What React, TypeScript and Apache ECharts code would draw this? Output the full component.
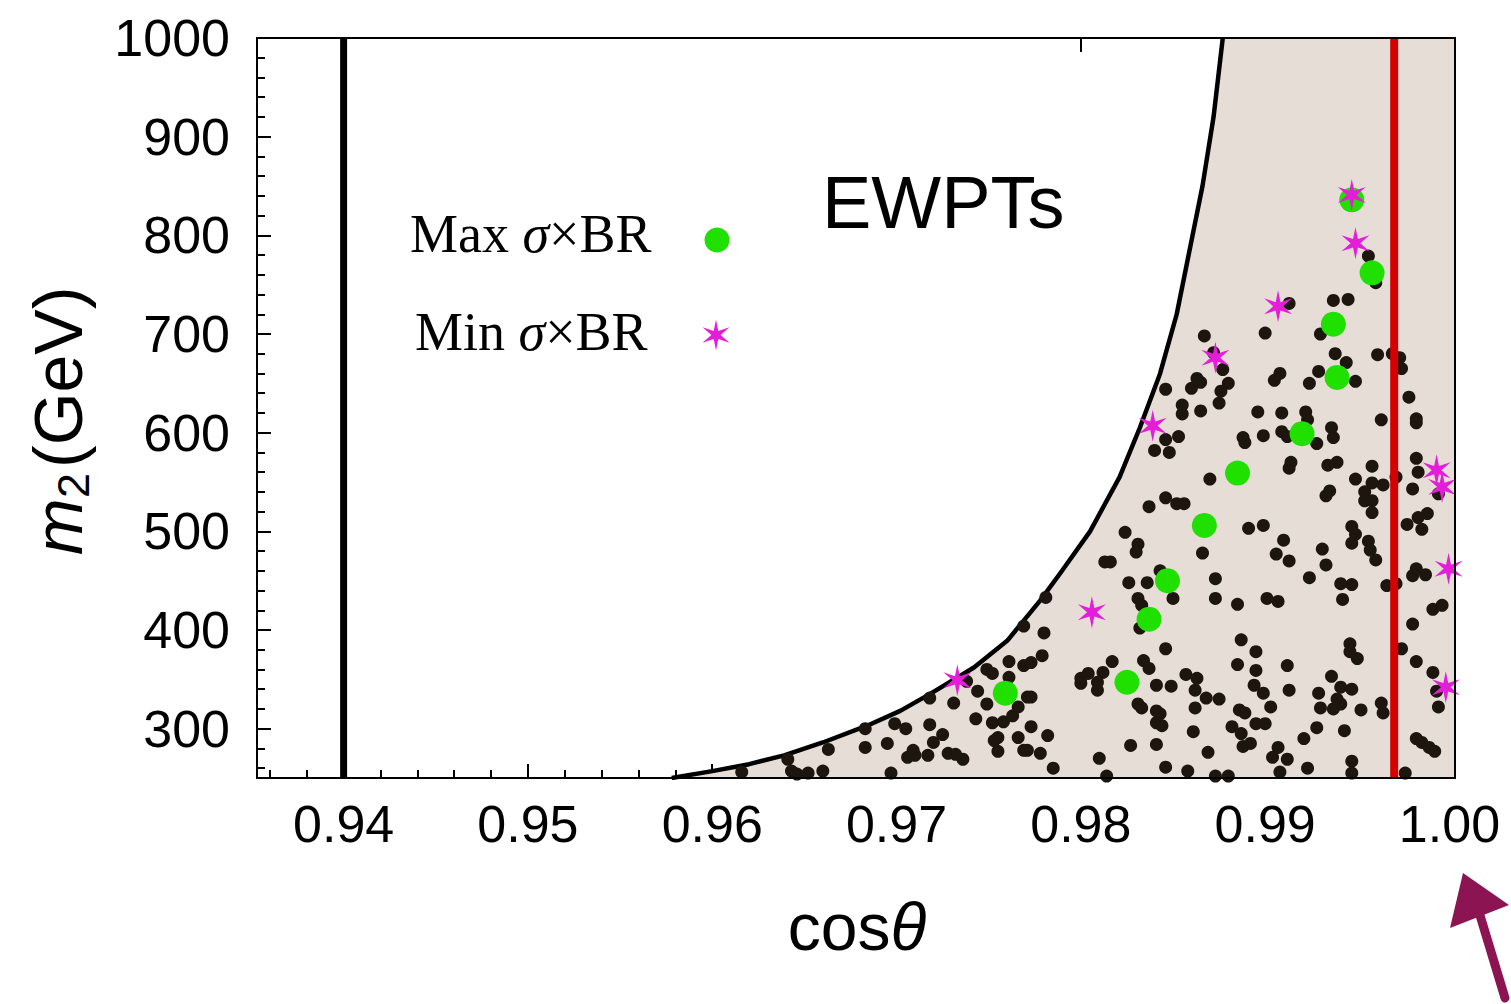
import React, { useEffect, useRef } from "react";
import * as echarts from "echarts";

// ---------------- data ----------------
const X_MIN = 0.9353;
const X_MAX = 1.0003;
const Y_MIN = 250;
const Y_MAX = 1000;

const xMajorTicks = [0.94, 0.95, 0.96, 0.97, 0.98, 0.99, 1.0];
const xMinorTicks = [
  0.936, 0.938, 0.942, 0.944, 0.946, 0.948, 0.952, 0.954, 0.956, 0.958,
  0.962, 0.964, 0.966, 0.968, 0.972, 0.974, 0.976, 0.978, 0.982, 0.984,
  0.986, 0.988, 0.992, 0.994, 0.996, 0.998,
];
const xTopTicks = [0.98, 0.99];
const yMajorTicks = [300, 400, 500, 600, 700, 800, 900, 1000];
const yMinorTicks = [
  260, 280, 320, 340, 360, 380, 420, 440, 460, 480, 520, 540, 560, 580,
  620, 640, 660, 680, 720, 740, 760, 780, 820, 840, 860, 880, 920, 940, 960, 980,
];

// EWPT exclusion boundary (allowed region lies to the right / below)
const boundaryCos = [0.9578, 0.96, 0.962, 0.9639, 0.966, 0.9684, 0.9702, 0.9718, 0.9742, 0.976, 0.9778, 0.9789, 0.9805, 0.9821, 0.9832, 0.9843, 0.9852, 0.9859, 0.9866, 0.9872, 0.9877];
const boundaryM2 = [250, 257, 264, 273, 286, 303, 318, 335, 362, 389, 430, 458, 500, 555, 605, 660, 720, 785, 850, 920, 1000];

const ewptLineCos = 0.94;
const redLineCos = 0.997;

// light strips (rendering artefacts in the original shading)
const stripA = { cos: [0.979, 0.9797], m2: [250, 465] };
const stripB = { cos: [0.9914, 0.992], m2: [250, 1000] };

const scanPoints: [number, number][] = [
  [0.9616, 256], [0.9641, 269], [0.9643, 257], [0.9646, 254], [0.9652, 255], [0.966, 257], [0.9663, 279],
  [0.9683, 300], [0.9683, 281], [0.9695, 285], [0.9697, 255], [0.9699, 305], [0.9705, 300], [0.9706, 271],
  [0.9709, 278], [0.971, 273], [0.9717, 273], [0.9718, 331], [0.9718, 304], [0.972, 286], [0.9725, 294],
  [0.9728, 275], [0.9732, 274], [0.9736, 269], [0.9731, 326], [0.9738, 348], [0.9743, 310], [0.9744, 338],
  [0.9749, 360], [0.9752, 356], [0.9749, 325], [0.9752, 306], [0.9755, 291], [0.9753, 288], [0.9755, 277],
  [0.9758, 307], [0.9761, 368], [0.9761, 352], [0.9763, 313], [0.9766, 322], [0.9766, 291], [0.9769, 278],
  [0.9771, 332], [0.9773, 332], [0.9773, 302], [0.9769, 364], [0.9773, 367], [0.9779, 374], [0.9769, 404],
  [0.978, 397], [0.9781, 433], [0.9778, 275], [0.9771, 278], [0.9782, 293], [0.9785, 260],
  [0.9831, 432], [0.9833, 425], [0.9832, 402], [0.985, 432], [0.9873, 432], [0.9885, 426], [0.9887, 390],
  [0.9885, 365], [0.9846, 381], [0.9817, 368], [0.9834, 369], [0.9837, 361], [0.9804, 356], [0.9812, 357],
  [0.98, 351], [0.98, 346], [0.9809, 347], [0.9809, 339], [0.9857, 355], [0.9863, 351], [0.9841, 344],
  [0.9849, 343], [0.9862, 339], [0.9868, 331], [0.9875, 330], [0.9831, 325], [0.9833, 321], [0.9841, 318],
  [0.9843, 315], [0.9841, 306], [0.9844, 303], [0.9862, 321], [0.9886, 319], [0.9889, 316], [0.9882, 302],
  [0.9887, 295], [0.9888, 282], [0.9861, 297], [0.9827, 283], [0.9841, 284], [0.9869, 276], [0.981, 270],
  [0.9846, 261], [0.9858, 257], [0.9814, 252], [0.9873, 252], [0.988, 252],
  [0.9855, 628], [0.9855, 619], [0.9865, 622], [0.9875, 630], [0.9846, 593], [0.9853, 596], [0.984, 582],
  [0.9848, 580], [0.9888, 595], [0.9889, 590], [0.987, 553], [0.9846, 534], [0.9837, 525], [0.9852, 528],
  [0.9856, 528], [0.9824, 499], [0.9831, 487], [0.983, 479], [0.9866, 478], [0.9813, 469], [0.9816, 469],
  [0.9843, 460], [0.9826, 448], [0.9836, 448], [0.9873, 452], [0.9891, 503],
  [0.9896, 621], [0.9909, 620], [0.9899, 597], [0.9909, 601], [0.9912, 596], [0.9922, 621], [0.9923, 613],
  [0.9936, 605], [0.9937, 595], [0.9928, 589], [0.9963, 613], [0.9982, 614], [0.9982, 610], [0.9913, 564],
  [0.9914, 570], [0.9934, 567], [0.9939, 570], [0.9933, 536], [0.9935, 541], [0.9949, 553], [0.9958, 566],
  [0.9958, 549], [0.9964, 547], [0.9954, 540], [0.9954, 531], [0.9958, 531], [0.9958, 519], [0.9971, 555],
  [0.9982, 574], [0.9983, 560], [0.998, 543], [0.9994, 538], [0.9988, 518], [0.9983, 514], [0.9977, 507],
  [0.9985, 502], [0.9899, 506], [0.991, 491], [0.9906, 477], [0.9913, 470], [0.9947, 505], [0.9949, 497],
  [0.9947, 488], [0.9956, 490], [0.9957, 481], [0.996, 471], [0.9931, 482], [0.9933, 466], [0.9924, 453],
  [0.9941, 447], [0.9947, 446], [0.9966, 445], [0.9971, 447], [0.998, 455], [0.9982, 462], [0.9987, 456],
  [0.9901, 432], [0.9907, 429], [0.9942, 431], [0.9991, 421], [0.9996, 425], [0.998, 406], [0.9895, 378],
  [0.9895, 359], [0.9894, 344], [0.9899, 336], [0.9903, 322], [0.9895, 305], [0.99, 305], [0.9892, 285],
  [0.9907, 281], [0.9904, 271], [0.9908, 256], [0.9912, 364], [0.9912, 269], [0.9946, 386], [0.9946, 378],
  [0.995, 371], [0.9936, 353], [0.9941, 342], [0.9947, 340], [0.9929, 336], [0.993, 321], [0.9939, 330],
  [0.9941, 325], [0.9937, 320], [0.9952, 319], [0.9963, 326], [0.9964, 316], [0.9928, 301], [0.9943, 298],
  [0.9921, 290], [0.9923, 260], [0.9947, 267], [0.9947, 255], [0.9974, 381], [0.9982, 368], [0.9991, 357],
  [0.9993, 338], [0.9994, 322], [0.9982, 290], [0.9985, 286], [0.9989, 281], [0.9992, 277], [0.9976, 255],
  [0.9913, 339],
  [0.9867, 698], [0.9877, 664], [0.9846, 644], [0.986, 645], [0.9863, 655], [0.9865, 651], [0.988, 650],
  [0.9876, 642], [0.99, 701], [0.9908, 660], [0.9905, 653], [0.9913, 731], [0.9937, 734], [0.9945, 735],
  [0.993, 700], [0.9938, 680], [0.9944, 671], [0.9929, 662], [0.9924, 650], [0.9949, 652], [0.9961, 679],
  [0.9969, 680], [0.9973, 676], [0.9974, 665], [0.9978, 636], [0.9956, 779], [0.996, 752], [0.9872, 681],
];

const maxSigmaBR: [number, number][] = [
  [0.9759, 336], [0.9825, 347], [0.9837, 411], [0.9847, 450], [0.9867, 506], [0.9885, 559],
  [0.992, 599], [0.9939, 656], [0.9937, 710], [0.9958, 762], [0.9947, 836],
];

const minSigmaBR: [number, number][] = [
  [0.9733, 349], [0.9806, 418], [0.9839, 607], [0.9873, 676], [0.9907, 728], [0.9949, 792],
  [0.9947, 841], [0.9993, 562], [0.9996, 545], [0.99995, 462], [0.9998, 342],
];

// ---------------- styles ----------------
const SANS = "'Liberation Sans', Arial, Helvetica, sans-serif";
const SERIF = "'Liberation Serif', 'Times New Roman', serif";
const FILL = "#e6ddd6";
const DOT = "#1d160f";
const GREEN = "#20e000";
const MAGENTA = "#e41ed8";
const RED = "#d60000";

const STAR_TEMPLATE: [number, number][] = [
  [50, 0], [57.5, 37.01], [93.3, 25], [65, 50], [93.3, 75], [57.5, 62.99],
  [50, 100], [42.5, 62.99], [6.7, 75], [35, 50], [6.7, 25], [42.5, 37.01],
];
const STAR_PATH =
  "path://M" + STAR_TEMPLATE.map((p) => p[0] + " " + p[1]).join("L") + "Z";

function xAxisDef(position: "top" | "bottom", ticks: number[], length: number, labels: boolean) {
  return {
    type: "value",
    min: X_MIN,
    max: X_MAX,
    position,
    axisLine: { show: false },
    splitLine: { show: false },
    axisTick: {
      show: true,
      inside: true,
      length,
      customValues: ticks,
      lineStyle: { color: "#000", width: 2 },
    },
    axisLabel: labels
      ? {
          show: true,
          customValues: ticks,
          formatter: (v: number) => v.toFixed(2),
          fontSize: 52,
          fontFamily: SANS,
          color: "#000",
          margin: 20,
        }
      : { show: false },
  };
}

function yAxisDef(position: "left" | "right", ticks: number[], length: number, labels: boolean) {
  return {
    type: "value",
    min: Y_MIN,
    max: Y_MAX,
    position,
    axisLine: { show: false },
    splitLine: { show: false },
    axisTick: {
      show: true,
      inside: true,
      length,
      customValues: ticks,
      lineStyle: { color: "#000", width: 2 },
    },
    axisLabel: labels
      ? {
          show: true,
          customValues: ticks,
          formatter: (v: number) => String(v),
          fontSize: 52,
          fontFamily: SANS,
          color: "#000",
          margin: 27,
        }
      : { show: false },
  };
}

export default function App() {
  const ref = useRef<HTMLDivElement>(null);

  useEffect(() => {
    if (!ref.current) return;
    const chart = echarts.init(ref.current, undefined, { renderer: "svg" });

    const boundary = boundaryCos.map((c, i) => [c, boundaryM2[i]]);
    const areaData = [...boundary, [X_MAX, Y_MAX]];

    const legendStarPts = STAR_TEMPLATE.map((p) => [716 + (p[0] - 50) * 0.31, 335 + (p[1] - 50) * 0.31]);

    const richLegend = {
      a: { fontSize: 54, fontFamily: SERIF, fill: "#000" },
      b: { fontSize: 54, fontFamily: SERIF, fontStyle: "italic", fill: "#000" },
    };

    const option: any = {
      animation: false,
      backgroundColor: "#fff",
      grid: {
        left: 257,
        top: 38,
        width: 1198,
        height: 740,
        show: true,
        borderColor: "#000",
        borderWidth: 2,
        backgroundColor: "transparent",
        z: 10,
      },
      xAxis: [
        xAxisDef("bottom", xMajorTicks, 14, true),
        xAxisDef("bottom", xMinorTicks, 8, false),
        xAxisDef("top", xTopTicks, 14, false),
      ],
      yAxis: [
        yAxisDef("left", yMajorTicks, 14, true),
        yAxisDef("left", yMinorTicks, 8, false),
        yAxisDef("right", yMajorTicks, 14, false),
        yAxisDef("right", yMinorTicks, 8, false),
      ],
      series: [
        {
          type: "line",
          name: "allowed",
          data: areaData,
          symbol: "none",
          smooth: false,
          lineStyle: { width: 0, opacity: 0 },
          areaStyle: { color: FILL, opacity: 1, origin: "start" },
          silent: true,
          z: 1,
          markArea: {
            silent: true,
            itemStyle: { color: "#eeeae6" },
            data: [
              [{ coord: [stripA.cos[0], stripA.m2[0]] }, { coord: [stripA.cos[1], stripA.m2[1]] }],
            ],
          },
        },
        {
          type: "line",
          name: "EWPT boundary",
          data: boundary,
          symbol: "none",
          smooth: false,
          lineStyle: { color: "#000", width: 4.5, join: "round" },
          silent: true,
          z: 2,
        },
        {
          type: "scatter",
          name: "scan",
          data: scanPoints,
          symbol: "circle",
          symbolSize: 13,
          itemStyle: { color: DOT, opacity: 1 },
          silent: true,
          z: 3,
        },
        {
          type: "line",
          name: "strip",
          data: [],
          silent: true,
          z: 4,
          markArea: {
            silent: true,
            itemStyle: { color: "#e9e3de", opacity: 0.9 },
            data: [
              [{ coord: [stripB.cos[0], stripB.m2[0]] }, { coord: [stripB.cos[1], stripB.m2[1]] }],
            ],
          },
        },
        {
          type: "line",
          name: "cos 0.94",
          data: [
            [ewptLineCos, Y_MIN],
            [ewptLineCos, Y_MAX],
          ],
          symbol: "none",
          lineStyle: { color: "#000", width: 7 },
          silent: true,
          z: 5,
        },
        {
          type: "line",
          name: "red bound",
          data: [
            [redLineCos, Y_MIN],
            [redLineCos, Y_MAX],
          ],
          symbol: "none",
          lineStyle: { color: RED, width: 8 },
          silent: true,
          z: 5,
        },
        {
          type: "scatter",
          name: "Max σ×BR",
          data: maxSigmaBR,
          symbol: "circle",
          symbolSize: 25,
          itemStyle: { color: GREEN, opacity: 1 },
          silent: true,
          z: 6,
        },
        {
          type: "scatter",
          name: "Min σ×BR",
          data: minSigmaBR,
          symbol: STAR_PATH,
          symbolSize: [28, 32],
          itemStyle: { color: MAGENTA, opacity: 1 },
          silent: true,
          z: 7,
          clip: false,
        },
      ],
      graphic: [
        // legend
        {
          type: "text",
          x: 410,
          y: 234,
          silent: true,
          style: { text: "{a|Max }{b|σ}{a|×BR}", verticalAlign: "middle", rich: richLegend },
        },
        { type: "circle", shape: { cx: 717, cy: 240, r: 12.5 }, style: { fill: GREEN }, silent: true },
        {
          type: "text",
          x: 415,
          y: 332,
          silent: true,
          style: { text: "{a|Min }{b|σ}{a|×BR}", verticalAlign: "middle", rich: richLegend },
        },
        { type: "polygon", shape: { points: legendStarPts }, style: { fill: MAGENTA }, silent: true },
        // EWPTs label
        {
          type: "text",
          x: 822,
          y: 202,
          silent: true,
          style: { text: "EWPTs", fontSize: 74, fontFamily: SANS, fill: "#000", verticalAlign: "middle" },
        },
        // x axis title
        {
          type: "text",
          x: 857,
          y: 927,
          silent: true,
          style: {
            text: "{a|cos}{b|θ}",
            align: "center",
            verticalAlign: "middle",
            rich: {
              a: { fontSize: 66, fontFamily: SANS, fill: "#000" },
              b: { fontSize: 66, fontFamily: SANS, fontStyle: "italic", fill: "#000" },
            },
          },
        },
        // y axis title (rotated)
        {
          type: "group",
          x: 58,
          y: 555,
          rotation: Math.PI / 2,
          silent: true,
          children: [
            {
              type: "text",
              x: 0,
              y: 0,
              style: { text: "m", fontSize: 68, fontFamily: SANS, fontStyle: "italic", fill: "#000", verticalAlign: "middle" },
            },
            {
              type: "text",
              x: 57,
              y: 15,
              style: { text: "2", fontSize: 45, fontFamily: SANS, fill: "#000", verticalAlign: "middle" },
            },
            {
              type: "text",
              x: 87,
              y: 0,
              style: { text: "(GeV)", fontSize: 68, fontFamily: SANS, fill: "#000", verticalAlign: "middle" },
            },
          ],
        },
        // hand-drawn arrow
        {
          type: "polygon",
          silent: true,
          shape: { points: [[1463, 873], [1450, 928], [1509, 905]] },
          style: { fill: "#8c1452" },
        },
        {
          type: "line",
          silent: true,
          shape: { x1: 1479, y1: 912, x2: 1505, y2: 998 },
          style: { stroke: "#8c1452", lineWidth: 9, lineCap: "round" },
        },
      ],
    };

    chart.setOption(option);
    return () => chart.dispose();
  }, []);

  return (
    <div
      ref={ref}
      style={{ position: "fixed", left: 0, top: 0, width: 1511, height: 1004, background: "#fff" }}
    />
  );
}
